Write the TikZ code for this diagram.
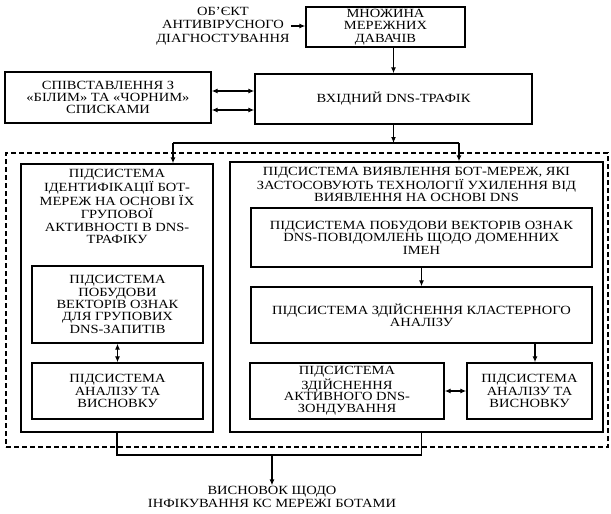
\documentclass[tikz,border=0pt]{standalone}
\usepackage{fontspec}
\setmainfont{Liberation Serif}[FakeStretch=1.16]
\usetikzlibrary{arrows.meta,calc}
\begin{document}
\begin{tikzpicture}[x=1pt,y=-1pt,
  txt/.style={align=center, font=\fontsize{12.5}{12.4}\selectfont, inner sep=1pt},
  blk/.style={txt, draw, line width=1.4pt},
  ttl/.style={txt, anchor=north, inner sep=0pt, yshift=-6pt},
  frm/.style={draw, line width=1.2pt, dash pattern=on 5pt off 3pt},
  arr/.style={line width=1.3pt, -{Latex[length=6pt,width=5pt]}},
  darr/.style={line width=1.3pt, {Latex[length=6pt,width=5pt]}-{Latex[length=6pt,width=5pt]}},
  ln/.style={line width=1.3pt}]
\useasboundingbox (0,0) rectangle (611,514);
% frame
\node[frm, minimum width=602pt, minimum height=294pt] (frame) at (307,300) {};
% top
\node[txt, font=\fontsize{12.5}{13.5}\selectfont] (obj) at (223,26) {ОБ’ЄКТ\\АНТИВІРУСНОГО\\ДІАГНОСТУВАННЯ};
\node[blk, minimum width=159pt, minimum height=40pt] (mn) at (385.5,27) {МНОЖИНА\\МЕРЕЖНИХ\\ДАВАЧІВ};
\node[blk, minimum width=277pt, minimum height=50pt] (vh) at (393.5,99) {ВХІДНИЙ DNS-ТРАФІК};
\node[blk, minimum width=206pt, minimum height=51pt] (sp) at (108,97.5) {СПІВСТАВЛЕННЯ З\\«БІЛИМ» ТА «ЧОРНИМ»\\СПИСКАМИ};
% big boxes
\node[blk, minimum width=192pt, minimum height=268pt,
  label={[ttl, font=\fontsize{12.5}{12.8}\selectfont]north:ПІДСИСТЕМА\\ІДЕНТИФІКАЦІЇ БОТ-\\МЕРЕЖ НА ОСНОВІ ЇХ\\ГРУПОВОЇ\\АКТИВНОСТІ В DNS-\\ТРАФІКУ}] (lb) at (117,298) {};
\node[blk, minimum width=373pt, minimum height=270pt,
  label={[ttl, font=\fontsize{12.5}{11.6}\selectfont]north:ПІДСИСТЕМА ВИЯВЛЕННЯ БОТ-МЕРЕЖ, ЯКІ\\ЗАСТОСОВУЮТЬ ТЕХНОЛОГІЇ УХИЛЕННЯ ВІД\\ВИЯВЛЕННЯ НА ОСНОВІ DNS}] (rb) at (416.5,297) {};
% left inner
\node[blk, minimum width=171pt, minimum height=77pt] (li1) at (117.5,304.5) {ПІДСИСТЕМА\\ПОБУДОВИ\\ВЕКТОРІВ ОЗНАК\\ДЛЯ ГРУПОВИХ\\DNS-ЗАПИТІВ};
\node[blk, minimum width=171pt, minimum height=56pt] (li2) at (117.5,391) {ПІДСИСТЕМА\\АНАЛІЗУ ТА\\ВИСНОВКУ};
% right inner
\node[blk, minimum width=341pt, minimum height=59pt] (ri1) at (421.5,237.5) {ПІДСИСТЕМА ПОБУДОВИ ВЕКТОРІВ ОЗНАК\\DNS-ПОВІДОМЛЕНЬ ЩОДО ДОМЕННИХ\\ІМЕН};
\node[blk, minimum width=341pt, minimum height=56pt] (cl) at (421.5,315) {ПІДСИСТЕМА ЗДІЙСНЕННЯ КЛАСТЕРНОГО\\АНАЛІЗУ};
\node[blk, minimum width=194pt, minimum height=56pt, font=\fontsize{12.5}{11.8}\selectfont] (ac) at (347,391) {ПІДСИСТЕМА\\ЗДІЙСНЕННЯ\\АКТИВНОГО DNS-\\ЗОНДУВАННЯ};
\node[blk, minimum width=125pt, minimum height=56pt] (an) at (529.5,391) {ПІДСИСТЕМА\\АНАЛІЗУ ТА\\ВИСНОВКУ};
% conclusion
\node[txt] (conc) at (272,497) {ВИСНОВОК ЩОДО\\ІНФІКУВАННЯ КС МЕРЕЖІ БОТАМИ};
% connectors
\coordinate (jl) at (173,143);
\coordinate (jr) at (459,143);
\coordinate (b) at (272,455);
\draw[arr] (obj.east) -- (obj.east -| mn.west);
\draw[arr] (vh.north |- mn.south) -- (vh.north);
\draw[darr] (sp.east |- 0,91) -- (vh.west |- 0,91);
\draw[darr] (sp.east |- 0,110) -- (vh.west |- 0,110);
\draw[arr] (vh.south) -- (vh.south |- jl);
\draw[ln] (jl) -- (jr);
\draw[arr] (jl) -- (jl |- lb.north);
\draw[arr] (jr) -- (jr |- rb.north);
\draw[darr] (li1.south) -- (li2.north);
\draw[arr] (ri1.south) -- (cl.north);
\draw[arr] (cl.south -| 535,0) -- (an.north -| 535,0);
\draw[darr] (ac.east) -- (an.west);
\draw[ln] (lb.south) -- (lb.south |- b) -- (ri1.south |- b) -- (ri1.south |- rb.south);
\draw[arr] (b) -- (conc.north);
\end{tikzpicture}
\end{document}
